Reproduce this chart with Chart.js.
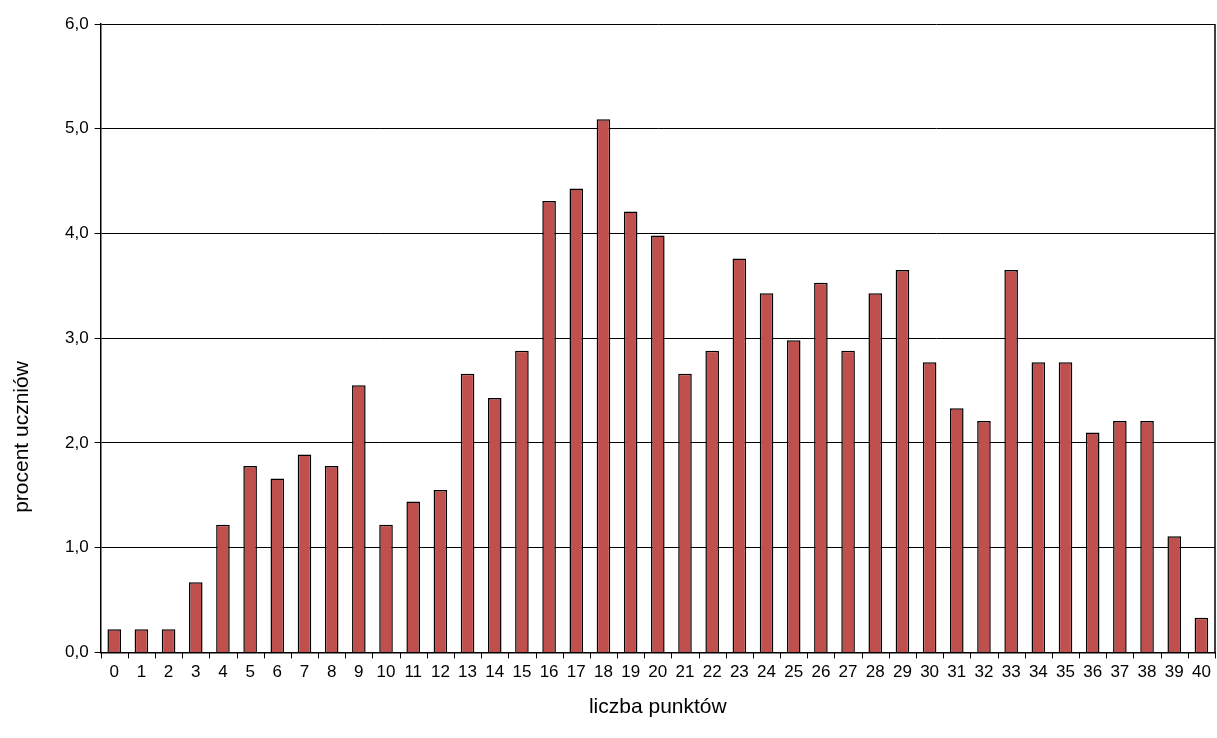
<!DOCTYPE html>
<html><head><meta charset="utf-8">
<script src="https://cdn.jsdelivr.net/npm/chart.js@4/dist/chart.umd.min.js"></script>
<style>html,body{margin:0;background:#fff}#w{width:1217px;height:738px}</style>
</head><body><div id="w"><canvas id="c"></canvas></div>
<script>
const categories = Array.from({length:41},(_,i)=>String(i));
const values = [0.22,0.22,0.22,0.67,1.22,1.78,1.66,1.89,1.78,2.55,1.22,1.44,1.55,2.66,2.43,2.88,4.31,4.43,5.09,4.21,3.98,2.66,2.88,3.76,3.43,2.98,3.53,2.88,3.43,3.65,2.77,2.33,2.21,3.65,2.77,2.77,2.10,2.21,2.21,1.11,0.33];
const yTicks = [0,1,2,3,4,5,6];
const yTitle = 'procent uczniów';
const frame = {id:'frame',afterDraw(ch){const a=ch.chartArea,c=ch.ctx;c.save();c.strokeStyle='#000';c.lineWidth=1.5;c.beginPath();c.moveTo(a.right,a.top);c.lineTo(a.right,a.bottom);c.stroke();
  c.lineWidth=1;c.beginPath();for(let i=0;i<=categories.length;i++){const px=Math.round(a.left+(a.right-a.left)*i/categories.length)+0.5;c.moveTo(px,a.bottom);c.lineTo(px,a.bottom+6);}c.stroke();
  c.translate(22,437);c.rotate(-Math.PI/2);c.fillStyle='#000';c.font='21px "Liberation Sans"';c.textAlign='center';c.textBaseline='middle';c.fillText(yTitle,0,0);c.restore();}};
new Chart(document.getElementById('c'),{
  type:'bar',
  data:{labels:categories,datasets:[{data:values,backgroundColor:'#c0504d',borderColor:'#000',borderWidth:1.5,borderSkipped:'bottom',barPercentage:0.5,categoryPercentage:1}]},
  options:{responsive:true,maintainAspectRatio:false,animation:false,
    layout:{padding:{top:24,right:2,bottom:14,left:59}},
    plugins:{legend:{display:false},tooltip:{enabled:false}},
    scales:{
      x:{grid:{display:false},border:{color:'#000',width:1.5},
        ticks:{color:'#000',font:{family:'Liberation Sans',size:17},maxRotation:0,autoSkip:false,padding:2},
        title:{display:true,text:'liczba punktów',color:'#000',font:{family:'Liberation Sans',size:21},padding:{top:10}}},
      y:{min:0,max:6,afterBuildTicks:a=>{a.ticks=yTicks.map(v=>({value:v}));},
        grid:{color:'#000',lineWidth:1,tickLength:6},border:{color:'#000',width:1.5},
        ticks:{color:'#000',font:{family:'Liberation Sans',size:17},padding:6,callback:v=>v.toFixed(1).replace('.',',')}}
    }},
  plugins:[frame]
});
</script></body></html>
